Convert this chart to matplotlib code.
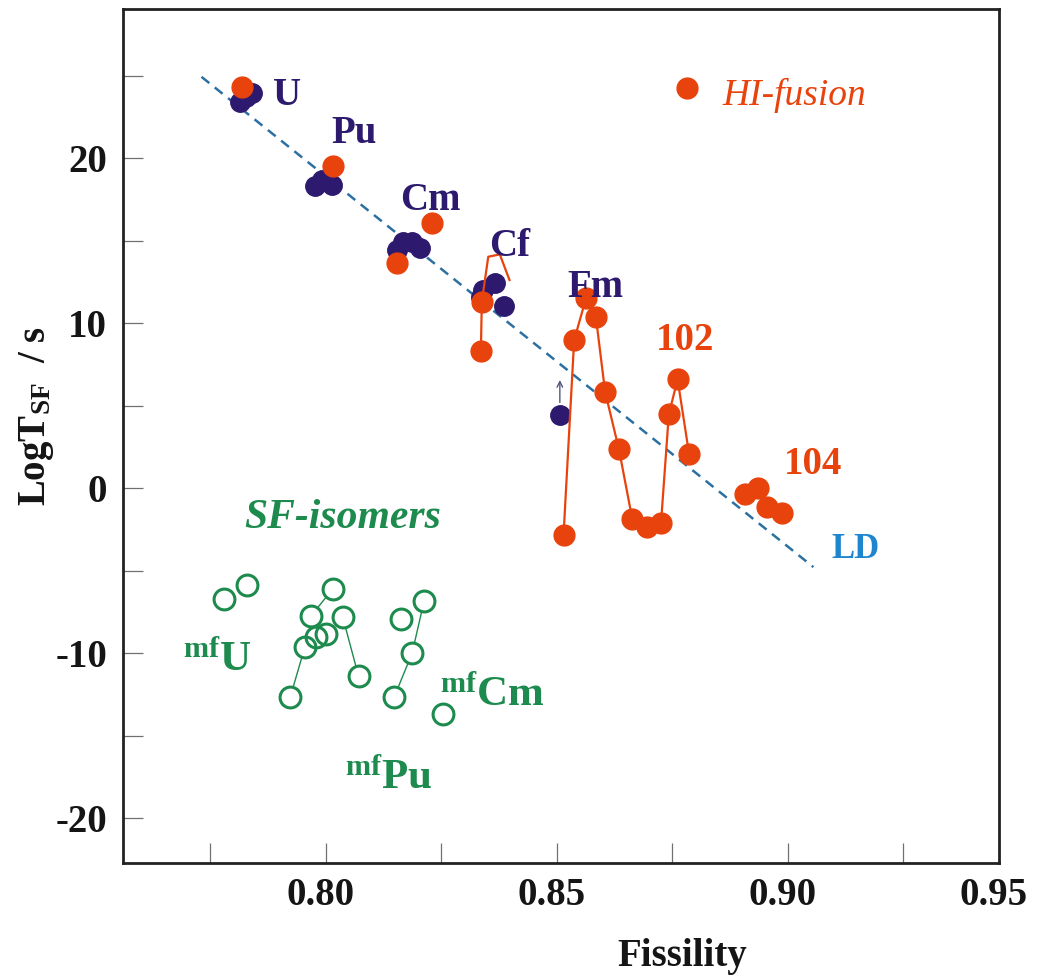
import matplotlib
matplotlib.use('Agg')
import matplotlib.pyplot as plt
from matplotlib.ticker import FixedLocator, FixedFormatter
from matplotlib.transforms import ScaledTranslation

# ---- values ----
# spontaneous fission half-lives, known nuclei (dark dots)
u_x = [0.7814, 0.7827, 0.7840]
u_y = [23.41, 23.69, 23.92]
pu_x = [0.7977, 0.7992, 0.8013]
pu_y = [18.30, 18.67, 18.36]
cm_x = [0.8154, 0.8168, 0.8186, 0.8204]
cm_y = [14.43, 14.93, 14.93, 14.53]
cf_x = [0.8336, 0.8341, 0.8367, 0.8385]
cf_y = [11.6, 12.00, 12.41, 11.03]
fm_x = [0.8507]
fm_y = [4.43]
fm_arrow_y = [4.43, 6.55]

# HI-fusion products (orange)
hi_u_x = [0.7818]
hi_u_y = [24.32]
hi_pu_x = [0.8015]
hi_pu_y = [19.51]
hi_cm_x = [0.8231, 0.8154]
hi_cm_y = [16.04, 13.62]
hi_cf_x = [0.8336, 0.8338]
hi_cf_y = [8.31, 11.29]
hi_cf_tail_x = [0.8338, 0.8352, 0.8377, 0.8398]
hi_cf_tail_y = [11.29, 14.02, 14.16, 12.61]
hi_fm102_x = [0.8515, 0.8538, 0.8564, 0.8585, 0.8605, 0.8635,
              0.8664, 0.8695, 0.8726, 0.8743, 0.8762, 0.8787]
hi_fm102_y = [-2.84, 8.97, 11.54, 10.38, 5.84, 2.35,
              -1.89, -2.34, -2.13, 4.47, 6.59, 2.05]
hi_104_x = [0.8908, 0.8936, 0.8955, 0.8988]
hi_104_y = [-0.38, 0.0, -1.13, -1.49]

# liquid drop systematics
ld_x = [0.7731, 0.9056]
ld_y = [24.92, -4.78]

# fission isomers (open green circles)
iso_u_x = [0.7780, 0.7830]
iso_u_y = [-6.74, -5.87]
iso_pu_x = [0.8015, 0.7968, 0.8037, 0.7980, 0.8001, 0.7955, 0.8071, 0.7923]
iso_pu_y = [-6.11, -7.75, -7.83, -9.00, -8.84, -9.61, -11.38, -12.67]
iso_pu_links = [(7, 5), (1, 0), (2, 6)]
iso_cm_x = [0.8163, 0.8213, 0.8187, 0.8148, 0.8255]
iso_cm_y = [-7.93, -6.84, -10.01, -12.67, -13.69]
iso_cm_links = [(1, 2), (2, 3)]

x_lim = (0.7561, 0.9458)
x_ticks = [0.775, 0.80, 0.825, 0.85, 0.875, 0.90, 0.925, x_lim[1]]
x_ticklabels = ['', '0.80', '', '0.85', '', '0.90', '', '0.95']
y_ticks = [-20, -15, -10, -5, 0, 5, 10, 15, 20, 25]
y_ticklabels = ['-20', '', '-10', '', '0', '', '10', '', '20', '']

NAVY = '#2d1a6e'
ORANGE = '#e8430c'
GREEN = '#1d8b4d'
LDBLUE = '#1e86cf'
DASH = '#2c70a2'


def configure_plot():
    """Times-like bold fonts, inward ticks"""
    plt.rcParams['font.family'] = ['Liberation Serif', 'DejaVu Serif']
    plt.rcParams['font.weight'] = 'bold'
    plt.rcParams['axes.labelweight'] = 'bold'
    plt.rcParams['font.size'] = 28
    plt.rcParams['axes.unicode_minus'] = False
    plt.rcParams['mathtext.fontset'] = 'custom'
    plt.rcParams['mathtext.rm'] = 'Liberation Serif:bold'
    plt.rcParams['mathtext.it'] = 'Liberation Serif:bold'
    plt.rcParams['mathtext.bf'] = 'Liberation Serif:bold'
    plt.rcParams['xtick.direction'] = 'in'
    plt.rcParams['ytick.direction'] = 'in'
    plt.rcParams['xtick.major.size'] = 14.5
    plt.rcParams['ytick.major.size'] = 14.5
    plt.rcParams['xtick.major.width'] = 0.9
    plt.rcParams['ytick.major.width'] = 0.9
    plt.rcParams['xtick.color'] = '#707070'
    plt.rcParams['ytick.color'] = '#707070'
    plt.rcParams['xtick.labelcolor'] = '#151515'
    plt.rcParams['ytick.labelcolor'] = '#151515'
    plt.rcParams['xtick.major.pad'] = 10
    plt.rcParams['ytick.major.pad'] = 11.5


configure_plot()

fig = plt.figure(figsize=(10.41, 9.80), dpi=100)
ax = fig.add_axes([123 / 1041, 1 - 863 / 980, 876 / 1041, 854 / 980])
ax.set_xlim(*x_lim)
ax.set_ylim(-22.71, 29.03)

for s in ax.spines.values():
    s.set_linewidth(2.0)
    s.set_color('#222222')

ax.xaxis.set_major_locator(FixedLocator(x_ticks))
ax.xaxis.set_major_formatter(FixedFormatter(x_ticklabels))
ax.yaxis.set_major_locator(FixedLocator(y_ticks))
ax.yaxis.set_major_formatter(FixedFormatter(y_ticklabels))
# labels sit a little left of their ticks in the original
shift = ScaledTranslation(-5 / 100, 0, fig.dpi_scale_trans)
for lbl in ax.get_xticklabels():
    lbl.set_transform(lbl.get_transform() + shift)

ax.set_xlabel('Fissility', color='#151515')
ax.xaxis.set_label_coords(0.638, -0.088)
ax.set_ylabel('LogT$_{SF}$  / s', color='#151515')
ax.yaxis.set_label_coords(-0.077, 0.523)

# LD line
ax.plot(ld_x, ld_y, ls=(0, (4, 2.8)), color=DASH, lw=1.8, zorder=2)

# known nuclei
for xs, ys in [(u_x, u_y), (pu_x, pu_y), (cm_x, cm_y), (cf_x, cf_y), (fm_x, fm_y)]:
    ax.plot(xs, ys, 'o', ms=14, color=NAVY, zorder=3)
ax.annotate('', xy=(fm_x[0], fm_arrow_y[1]), xytext=(fm_x[0], fm_arrow_y[0]),
            arrowprops=dict(arrowstyle='->', color='#55557a', lw=1.0,
                            shrinkA=9, shrinkB=0, mutation_scale=10), zorder=3)

# HI-fusion
ax.plot(hi_cf_tail_x, hi_cf_tail_y, '-', color=ORANGE, lw=1.6, zorder=4)
ax.plot(hi_cf_x, hi_cf_y, '-o', color=ORANGE, lw=1.6, ms=15, zorder=4)
ax.plot(hi_fm102_x, hi_fm102_y, '-o', color=ORANGE, lw=1.6, ms=15, zorder=4)
ax.plot(hi_104_x, hi_104_y, '-o', color=ORANGE, lw=1.6, ms=15, zorder=4)
for xs, ys in [(hi_u_x, hi_u_y), (hi_pu_x, hi_pu_y), (hi_cm_x, hi_cm_y)]:
    ax.plot(xs, ys, 'o', ms=15, color=ORANGE, zorder=4)

# fission isomers: links, white fill, then outlines
for xs, ys, links in [(iso_pu_x, iso_pu_y, iso_pu_links), (iso_cm_x, iso_cm_y, iso_cm_links)]:
    for i, j in links:
        ax.plot([xs[i], xs[j]], [ys[i], ys[j]], color=GREEN, lw=1.0, zorder=2)
for xs, ys in [(iso_u_x, iso_u_y), (iso_pu_x, iso_pu_y), (iso_cm_x, iso_cm_y)]:
    ax.plot(xs, ys, 'o', ms=15, mfc='white', mec='none', ls='none', zorder=3)
    ax.plot(xs, ys, 'o', ms=15, mfc='none', mec=GREEN, mew=2.2, ls='none', zorder=4)

# legend-like marker and labels
ax.plot([0.8782], [24.22], 'o', ms=15, color=ORANGE, zorder=4)
ax.text(0.8858, 23.21, 'HI-fusion', color=ORANGE, fontsize=27,
        fontweight='normal', style='italic', ha='left', va='baseline')

lab = dict(ha='center', va='baseline', fontsize=28, zorder=5)
ax.text(0.7917, 23.21, 'U', color=NAVY, **lab)
ax.text(0.8062, 20.89, 'Pu', color=NAVY, **lab)
ax.text(0.8227, 16.85, 'Cm', color=NAVY, **lab)
ax.text(0.8398, 14.06, 'Cf', color=NAVY, **lab)
ax.text(0.8583, 11.60, 'Fm', color=NAVY, **lab)
ax.text(0.8779, 8.37, '102', color=ORANGE, **lab)
ax.text(0.9055, 0.85, '104', color=ORANGE, **lab)
ax.text(0.9148, -4.25, 'LD', color=LDBLUE, ha='center', va='baseline', fontsize=25)

ax.text(0.8036, -2.44, 'SF-isomers', color=GREEN, fontsize=30,
        style='italic', ha='center', va='baseline')
iso = dict(ha='left', va='baseline', fontsize=31, color=GREEN)
ax.text(0.7691, -11.02, r'$^{\rm mf}$U', **iso)
ax.text(0.8042, -18.19, r'$^{\rm mf}$Pu', **iso)
ax.text(0.8247, -13.14, r'$^{\rm mf}$Cm', **iso)

fig.savefig('out.png', dpi=100)
